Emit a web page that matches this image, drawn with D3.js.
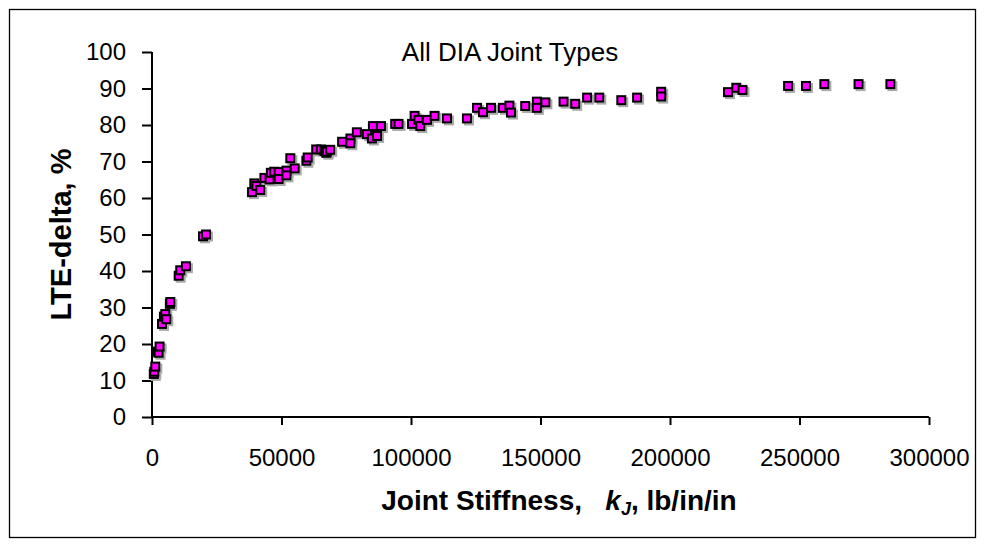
<!DOCTYPE html>
<html>
<head>
<meta charset="utf-8">
<script src="https://cdn.jsdelivr.net/npm/d3@7"></script>
<style>
  body { margin: 0; background: #fff; }
  svg { display: block; font-family: Arial, "Liberation Sans", sans-serif; }
</style>
</head>
<body>
<svg id="chart" width="986" height="550"></svg>
<script>
// Joint stiffness (lb/in/in) and LTE-delta (%)
const stiffness = [
  700, 890, 1270, 2300, 2550, 2930, 3860, 4600, 5130, 5520, 6900, 7070,
  10300, 10900, 13100, 19700, 20850,
  38600, 39500, 40300, 41800, 43400, 45400, 45900, 47200, 48900, 48900,
  51900, 51900, 53400, 55100, 59600, 60100, 63400, 65200, 66600, 67300,
  67500, 68800, 73400, 76600, 76600, 79100, 83000, 84900, 85300, 86900,
  88400, 93900, 95200, 100400, 101400, 102900, 103600, 106200, 109100,
  113900, 121600, 125500, 127800, 130900, 135500, 138000, 138600, 144100,
  148600, 148600, 151900, 158900, 163400, 168000, 172700, 181200, 187300,
  196600, 196600, 222400, 225600, 228000, 245600, 252500, 259600, 272800,
  285100
];
const lteDelta = [
  11.8, 12.4, 13.8, 17.9, 17.6, 19.3, 25.5, 27.5, 28.2, 26.8, 31.0, 31.5,
  38.7, 40.2, 41.3, 49.5, 50.0,
  61.6, 64.0, 63.3, 62.2, 65.5, 65.1, 66.9, 67.2, 67.1, 65.2,
  67.5, 66.2, 70.9, 68.1, 70.2, 71.1, 73.3, 73.3, 72.9, 72.4,
  72.7, 73.2, 75.4, 76.3, 75.0, 78.0, 77.5, 76.3, 79.7, 77.0,
  79.7, 80.3, 80.3, 80.3, 82.5, 81.4, 79.7, 81.4, 82.5,
  81.8, 81.8, 84.7, 83.5, 84.7, 84.7, 85.3, 83.4, 85.2,
  86.4, 84.7, 86.2, 86.4, 85.8, 87.5, 87.5, 86.8, 87.5,
  89.1, 87.8, 89.0, 90.2, 89.6, 90.7, 90.7, 91.2, 91.2,
  91.2
];
const xTicks = [0, 50000, 100000, 150000, 200000, 250000, 300000];
const yTicks = [0, 10, 20, 30, 40, 50, 60, 70, 80, 90, 100];

const svg = d3.select('#chart');

// outer frame
svg.append('rect')
  .attr('x', 9.5).attr('y', 9.5)
  .attr('width', 966).attr('height', 528)
  .attr('fill', 'none').attr('stroke', '#000').attr('stroke-width', 1.3);

const pLeft = 152, pRight = 929, pTop = 52, pBottom = 417;

const x = d3.scaleLinear().domain([0, 300000]).range([pLeft, pRight]);
const y = d3.scaleLinear().domain([0, 100]).range([pBottom, pTop]);

// axes
const xAxis = svg.append('g')
  .attr('transform', `translate(0,${pBottom})`)
  .call(d3.axisBottom(x).tickValues(xTicks).tickSize(8).tickPadding(24).tickFormat(d3.format('d')));
const yAxis = svg.append('g')
  .attr('transform', `translate(${pLeft},0)`)
  .call(d3.axisLeft(y).tickValues(yTicks).tickSize(10).tickPadding(16));

[xAxis, yAxis].forEach(g => {
  g.selectAll('.tick line').attr('stroke-width', 2);
  g.selectAll('.tick text')
    .attr('font-family', 'Arial, "Liberation Sans", sans-serif')
    .attr('font-size', 24).attr('fill', '#000');
});
xAxis.select('.domain').attr('stroke-width', 2).attr('d', `M${pLeft},0H${pRight}`);
yAxis.select('.domain').attr('stroke-width', 2).attr('d', `M0,${pTop}V${pBottom}`);

// title
svg.append('text')
  .attr('x', 510).attr('y', 61)
  .attr('text-anchor', 'middle')
  .attr('font-size', 26)
  .text('All DIA Joint Types');

// axis titles
svg.append('text')
  .attr('transform', `translate(71,${(pTop + pBottom) / 2}) rotate(-90)`)
  .attr('text-anchor', 'middle')
  .attr('font-size', 29).attr('font-weight', 'bold')
  .text('LTE-delta, %');

const xl = svg.append('text')
  .attr('x', 559).attr('y', 510)
  .attr('text-anchor', 'middle')
  .attr('font-size', 28).attr('font-weight', 'bold')
  .attr('xml:space', 'preserve');
xl.append('tspan').text('Joint Stiffness,   ');
xl.append('tspan').attr('font-style', 'italic').text('k');
xl.append('tspan').attr('font-style', 'italic').attr('font-size', 18).attr('dy', 5).text('J');
xl.append('tspan').attr('dy', -5).text(', lb/in/in');

// markers
const pts = stiffness.map((s, i) => ({ s, v: lteDelta[i] }));
const ms = 8;

svg.append('g').selectAll('rect')
  .data(pts).join('rect')
  .attr('x', d => x(d.s) - ms / 2 + 2)
  .attr('y', d => y(d.v) - ms / 2 + 2)
  .attr('width', ms).attr('height', ms)
  .attr('fill', 'none').attr('stroke', '#aaa').attr('stroke-width', 2);

svg.append('g').selectAll('rect')
  .data(pts).join('rect')
  .attr('x', d => x(d.s) - ms / 2)
  .attr('y', d => y(d.v) - ms / 2)
  .attr('width', ms).attr('height', ms)
  .attr('fill', '#ff00ff').attr('stroke', '#000').attr('stroke-width', 2);
</script>
</body>
</html>
